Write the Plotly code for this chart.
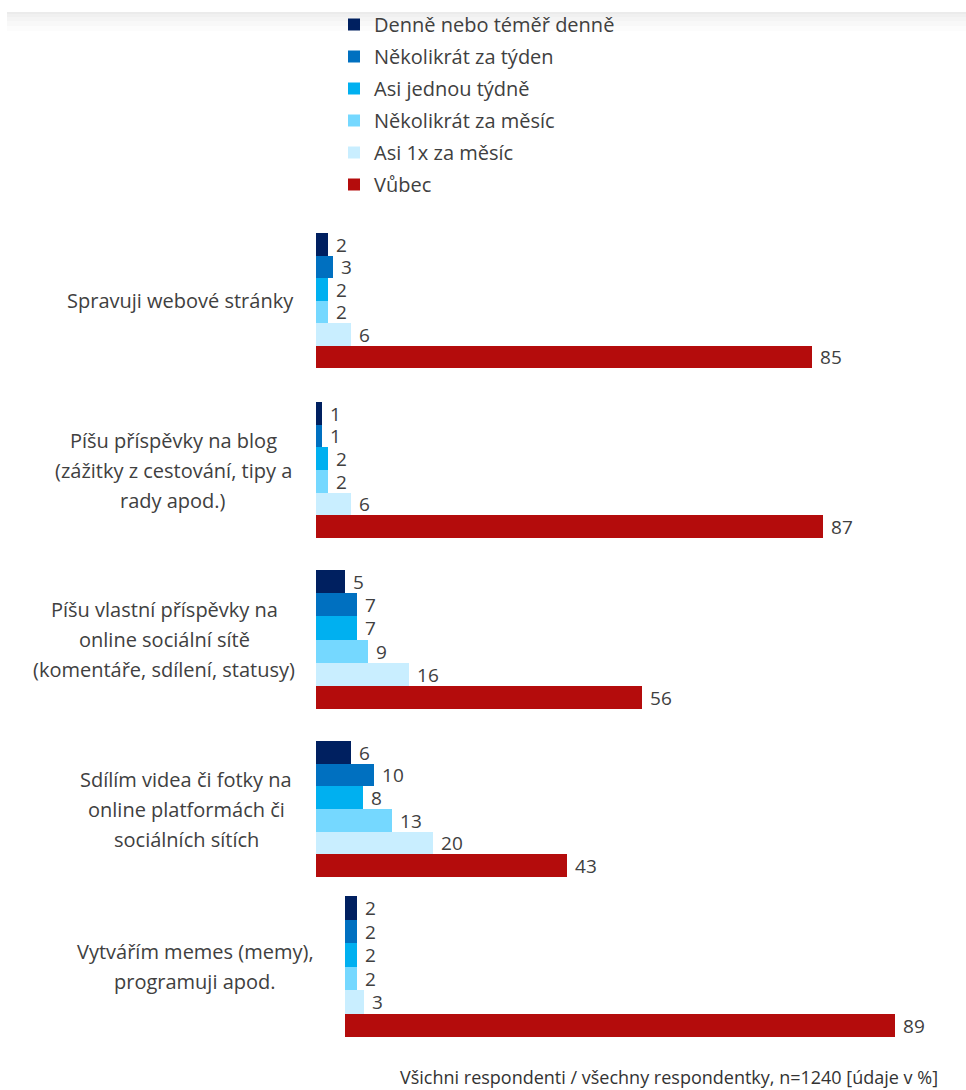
import plotly.graph_objects as go

# ---------------- data ----------------
series = ["Denně nebo téměř denně", "Několikrát za týden", "Asi jednou týdně",
          "Několikrát za měsíc", "Asi 1x za měsíc", "Vůbec"]
categories = [
    "Spravuji webové stránky",
    "Píšu příspěvky na blog<br>(zážitky z cestování, tipy a<br>rady apod.)",
    "Píšu vlastní příspěvky na<br>online sociální sítě<br>(komentáře, sdílení, statusy)",
    "Sdílím videa či fotky na<br>online platformách či<br>sociálních sítích",
    "Vytvářím memes (memy),<br>programuji apod.",
]
denne = [2, 1, 5, 6, 2]
nekolikrat_tyden = [3, 1, 7, 10, 2]
jednou_tydne = [2, 2, 7, 8, 2]
nekolikrat_mesic = [2, 2, 9, 13, 2]
jednou_mesic = [6, 6, 16, 20, 3]
vubec = [85, 87, 56, 43, 89]
values = [denne, nekolikrat_tyden, jednou_tydne, nekolikrat_mesic, jednou_mesic, vubec]
footnote = "Všichni respondenti / všechny respondentky, n=1240 [údaje v %]"

# ---------------- style ----------------
colors = ["#002060", "#0070C0", "#00B0F0", "#75D8FF", "#C9EEFF", "#B40C0C"]
W, H = 966, 1090
FONT = "Open Sans"
TXT = "#404040"
FS = 20

# group layout in pixels (top, bottom) and x start / px per unit
group_y = [(233, 368), (402, 538), (570, 709), (741, 877), (896, 1037)]
group_x = [(316, 5.83), (316, 5.83), (316, 5.83), (316, 5.83), (345, 6.18)]
label_cx = [180, 173, 164, 186, 195]
line_gap = 30

fig = go.Figure()
layout_axes = {}
for g in range(len(categories)):
    ax = "" if g == 0 else str(g + 1)
    for s in range(len(series)):
        fig.add_trace(go.Bar(
            x=[values[s][g]], y=[series[s]], orientation="h",
            name=series[s], legendgroup=series[s], showlegend=(g == 0),
            marker=dict(color=colors[s], line=dict(width=0)),
            text=[values[s][g]], texttemplate="\u2009\u200a%{text}",
            textposition="outside", cliponaxis=False, constraintext="none",
            textfont=dict(family=FONT, size=19, color=TXT),
            xaxis="x" + ax, yaxis="y" + ax, hoverinfo="x+name",
        ))
    top, bot = group_y[g]
    x0, k = group_x[g]
    layout_axes["xaxis" + ax] = dict(domain=[x0 / W, min((x0 + 100 * k) / W, 1.0)],
                                     range=[0, 100], visible=False, anchor="y" + ax)
    layout_axes["yaxis" + ax] = dict(domain=[1 - bot / H, 1 - top / H], visible=False,
                                     type="category", categoryorder="array",
                                     categoryarray=series, autorange="reversed",
                                     anchor="x" + ax)

annotations = []
for g, cat in enumerate(categories):
    lines = cat.split("<br>")
    top, bot = group_y[g]
    cy = (top + bot) / 2
    n = len(lines)
    for i, ln in enumerate(lines):
        ypx = cy + (i - (n - 1) / 2) * line_gap
        annotations.append(dict(text=ln, x=label_cx[g] / W, y=1 - ypx / H, xref="paper", yref="paper",
                                xanchor="center", yanchor="middle", showarrow=False,
                                font=dict(family=FONT, size=FS, color=TXT)))
annotations.append(dict(text=footnote, x=940 / W, y=1 - 1077 / H, xref="paper", yref="paper",
                        xanchor="right", yanchor="middle", showarrow=False,
                        font=dict(family=FONT, size=18, color="#333333")))

# faint shaded band at top
shapes = []
band = [(12, 14, "#ebebeb"), (14, 17, "#f0f0f0"), (17, 21, "#f4f4f4"), (21, 26, "#f8f8f8"), (26, 31, "#fcfcfc")]
for y0, y1, c in band:
    shapes.append(dict(type="rect", xref="paper", yref="paper", x0=7 / W, x1=1,
                       y0=1 - y1 / H, y1=1 - y0 / H, fillcolor=c, line=dict(width=0), layer="below"))

fig.update_layout(
    width=W, height=H, margin=dict(l=0, r=0, t=0, b=0),
    paper_bgcolor="white", plot_bgcolor="rgba(0,0,0,0)",
    barmode="overlay", bargap=0.0,
    showlegend=True,
    legend=dict(x=334 / W, y=1 - 5 / H, xanchor="left", yanchor="top",
                traceorder="grouped", tracegroupgap=3,
                font=dict(family=FONT, size=FS, color=TXT), bgcolor="rgba(0,0,0,0)"),
    annotations=annotations, shapes=shapes,
    **layout_axes,
)
fig.write_html("out.html")
